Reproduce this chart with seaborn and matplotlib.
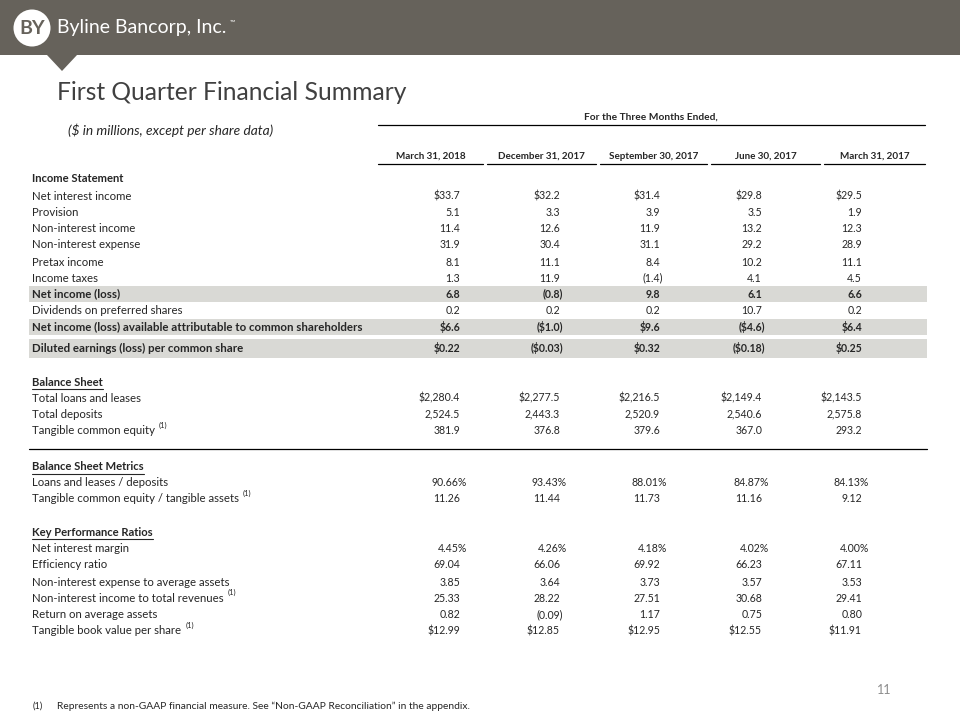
import matplotlib.pyplot as plt
import seaborn as sns
from matplotlib.patches import Circle, Polygon, Rectangle

sns.set_theme(style="white")
plt.rcParams["font.family"] = ["Lato", "DejaVu Sans"]

BAND = "#66625b"
SHADE = "#d9d9d5"
INK = "#262626"

periods = ["March 31, 2018", "December 31, 2017", "September 30, 2017",
           "June 30, 2017", "March 31, 2017"]

income_labels = ["Net interest income", "Provision", "Non-interest income",
                 "Non-interest expense", "Pretax income", "Income taxes",
                 "Net income (loss)", "Dividends on preferred shares",
                 "Net income (loss) available attributable to common shareholders",
                 "Diluted earnings (loss) per common share"]
income_values = [
    ["$33.7", "$32.2", "$31.4", "$29.8", "$29.5"],
    ["5.1", "3.3", "3.9", "3.5", "1.9"],
    ["11.4", "12.6", "11.9", "13.2", "12.3"],
    ["31.9", "30.4", "31.1", "29.2", "28.9"],
    ["8.1", "11.1", "8.4", "10.2", "11.1"],
    ["1.3", "11.9", "(1.4)", "4.1", "4.5"],
    ["6.8", "(0.8)", "9.8", "6.1", "6.6"],
    ["0.2", "0.2", "0.2", "10.7", "0.2"],
    ["$6.6", "($1.0)", "$9.6", "($4.6)", "$6.4"],
    ["$0.22", "($0.03)", "$0.32", "($0.18)", "$0.25"],
]
income_bold = [6, 8, 9]

balance_labels = ["Total loans and leases", "Total deposits", "Tangible common equity"]
balance_values = [
    ["$2,280.4", "$2,277.5", "$2,216.5", "$2,149.4", "$2,143.5"],
    ["2,524.5", "2,443.3", "2,520.9", "2,540.6", "2,575.8"],
    ["381.9", "376.8", "379.6", "367.0", "293.2"],
]
balance_note = [2]

metric_labels = ["Loans and leases / deposits", "Tangible common equity / tangible assets"]
metric_values = [
    ["90.66%", "93.43%", "88.01%", "84.87%", "84.13%"],
    ["11.26", "11.44", "11.73", "11.16", "9.12"],
]
metric_note = [1]

ratio_labels = ["Net interest margin", "Efficiency ratio",
                "Non-interest expense to average assets",
                "Non-interest income to total revenues",
                "Return on average assets", "Tangible book value per share"]
ratio_values = [
    ["4.45%", "4.26%", "4.18%", "4.02%", "4.00%"],
    ["69.04", "66.06", "69.92", "66.23", "67.11"],
    ["3.85", "3.64", "3.73", "3.57", "3.53"],
    ["25.33", "28.22", "27.51", "30.68", "29.41"],
    ["0.82", "(0.09)", "1.17", "0.75", "0.80"],
    ["$12.99", "$12.85", "$12.95", "$12.55", "$11.91"],
]
ratio_note = [3, 5]

# layout (pixels, top-left origin)
col_right = [460, 560, 660, 762, 862]
col_spans = [(378, 483), (487, 596), (600, 707), (711, 820), (824, 925)]
LABEL_X = 32
FS_VAL = 7.6
FS_LAB = 8.2

fig = plt.figure(figsize=(9.6, 7.2), dpi=100)
ax = fig.add_axes([0, 0, 1, 1])
ax.set_xlim(0, 960)
ax.set_ylim(720, 0)
ax.axis("off")

# header band
ax.add_patch(Rectangle((0, 0), 960, 55, color=BAND, lw=0))
ax.add_patch(Polygon([(47, 55), (77, 55), (62, 71)], closed=True, color=BAND, lw=0))
ax.add_patch(Circle((32, 28), 18.5, color="white", lw=0))
ax.text(32, 28.5, "BY", color=BAND, fontsize=14, fontweight="bold",
        ha="center", va="center")
ax.text(57, 28, "Byline Bancorp, Inc.", color="white", fontsize=14,
        ha="left", va="center")
ax.text(230, 22, "™", color="white", fontsize=5, ha="left", va="center")

ax.text(57, 93, "First Quarter Financial Summary", color="#404040",
        fontsize=17.7, ha="left", va="center")
ax.text(68, 130, "($ in millions, except per share data)", color=INK,
        fontsize=9.9, style="italic", ha="left", va="center")

ax.text(651, 117, "For the Three Months Ended,", color=INK, fontsize=7.3,
        fontweight="bold", ha="center", va="center")
ax.plot([378, 925], [125, 125], color="black", lw=0.9)
for (x0, x1), p in zip(col_spans, periods):
    ax.text((x0 + x1) / 2, 156.5, p, color=INK, fontsize=7.1, fontweight="bold",
            ha="center", va="center")
    ax.plot([x0, x1], [163.5, 163.5], color="black", lw=0.9)

fig.canvas.draw()
renderer = fig.canvas.get_renderer()
inv = ax.transData.inverted()


def right_edge(t):
    bb = t.get_window_extent(renderer)
    return inv.transform((bb.x1, bb.y1))[0]


def value_text(y, x, s, bold):
    shift = 0
    if s.endswith("%"):
        shift = 7
    elif s.endswith(")"):
        shift = 3
    ax.text(x + shift, y, s, color=INK, fontsize=FS_VAL,
            fontweight="bold" if bold else "normal", ha="right", va="center")


def section(y_head, head, underline, rows_y, labels, values, bold=(), notes=()):
    t = ax.text(LABEL_X, y_head, head, color=INK, fontsize=8.1, fontweight="bold",
                ha="left", va="center")
    if underline:
        ax.plot([LABEL_X, right_edge(t)], [y_head + 6.5, y_head + 6.5],
                color=INK, lw=0.8)
    for i, (y, lab, vals) in enumerate(zip(rows_y, labels, values)):
        b = i in bold
        if b:
            h = 19 if i == len(labels) - 1 and len(labels) == 10 else 16
            ax.add_patch(Rectangle((29, y - h / 2), 898, h, color=SHADE, lw=0, zorder=0))
        lt = ax.text(LABEL_X, y, lab, color=INK, fontsize=FS_LAB + (0.1 if b else 0),
                     fontweight="bold" if b else "normal", ha="left", va="center")
        if i in notes:
            ax.text(right_edge(lt) + 4, y - 6, "(1)", color=INK, fontsize=5.4,
                    ha="left", va="center")
        for x, s in zip(col_right, vals):
            value_text(y, x, s, b)


section(178, "Income Statement", False,
        [196, 213, 229, 245, 262, 278, 294, 311, 327, 348],
        income_labels, income_values, bold=income_bold)
section(382, "Balance Sheet", True, [398, 414, 431],
        balance_labels, balance_values, notes=balance_note)
ax.plot([29, 927], [449, 449], color="black", lw=0.9)
section(467, "Balance Sheet Metrics", True, [483, 499],
        metric_labels, metric_values, notes=metric_note)
section(532, "Key Performance Ratios", True, [549, 565, 582, 598, 615, 631],
        ratio_labels, ratio_values, notes=ratio_note)

ax.text(877, 690, "11", color="#8c8c8c", fontsize=9, ha="left", va="center")
ax.text(33, 706, "(1)", color=INK, fontsize=6.6, ha="left", va="center")
ax.text(57, 706, "Represents a non-GAAP financial measure. See \u201cNon-GAAP Reconciliation\u201d in the appendix.",
        color=INK, fontsize=7.4, ha="left", va="center")

fig.savefig("out.png", dpi=100)
